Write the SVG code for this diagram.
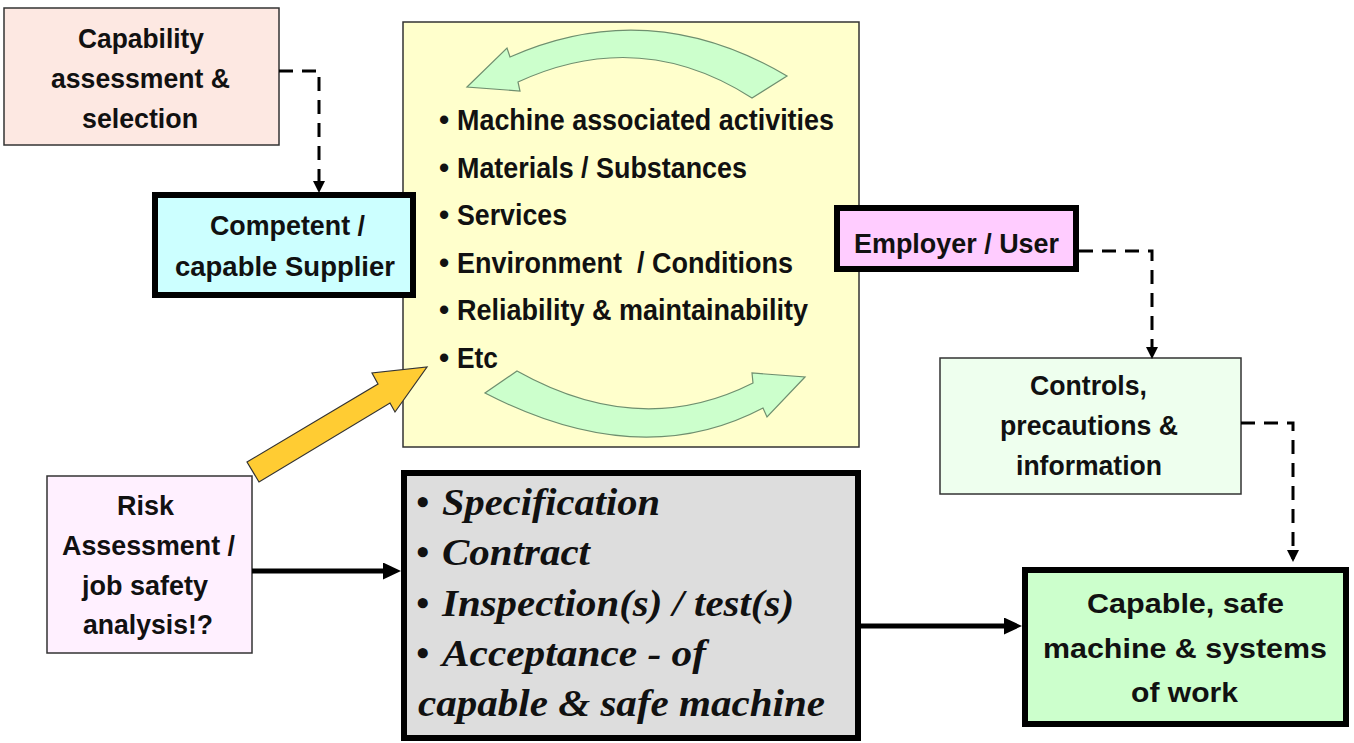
<svg xmlns="http://www.w3.org/2000/svg" width="1354" height="743" viewBox="0 0 1354 743">
<style>
.thin{stroke:#333;stroke-width:1.5}
.thick{stroke:#000;stroke-width:6}
.s{font-family:"Liberation Sans",Arial,sans-serif;font-weight:bold;font-size:28px;fill:#111}
.l{font-size:29px}
.r{font-family:"Liberation Serif","Times New Roman",serif;font-weight:bold;font-style:italic;font-size:37px;fill:#111}
.dash{fill:none;stroke:#000;stroke-width:3;stroke-dasharray:14 9}
.solid{fill:none;stroke:#000;stroke-width:5}
.garrow{fill:#ccffcc;stroke:#6f8f6f;stroke-width:1.2}
</style>
<defs>
<marker id="ms" markerUnits="userSpaceOnUse" markerWidth="12" markerHeight="12" refX="9" refY="6" orient="auto"><path d="M0,0 L12,6 L0,12 z" fill="#000"/></marker>
<marker id="mb" markerUnits="userSpaceOnUse" markerWidth="18" markerHeight="17" refX="9" refY="8.5" orient="auto"><path d="M0,0 L18,8.5 L0,17 z" fill="#000"/></marker>
</defs>
<rect width="1354" height="743" fill="#fff"/>

<g id="capability">
<rect x="4" y="8" width="275" height="137" fill="#fde8e2" class="thin"/>
<text class="s" x="78" y="48" textLength="126" lengthAdjust="spacingAndGlyphs">Capability</text>
<text class="s" x="51" y="88" textLength="179" lengthAdjust="spacingAndGlyphs">assessment &amp;</text>
<text class="s" x="82" y="128" textLength="116" lengthAdjust="spacingAndGlyphs">selection</text>
</g>

<g id="activities">
<rect x="403" y="22" width="456" height="425" fill="#ffffcc" class="thin"/>
<path class="garrow" d="M467,87 L507,48 L510,57 Q650,-5 787,76 L752,98 Q640,26 518,82 L520,91 Z"/>
<path class="garrow" d="M805,377 L767,417 L763,408 Q640,473 485,393 L517,371 Q640,440 753,383 L752,373 Z"/>
<text class="s l" x="439" y="130">•</text>
<text class="s l" x="457" y="130" textLength="377" lengthAdjust="spacingAndGlyphs">Machine associated activities</text>
<text class="s l" x="439" y="178">•</text>
<text class="s l" x="457" y="178" textLength="290" lengthAdjust="spacingAndGlyphs">Materials / Substances</text>
<text class="s l" x="439" y="225">•</text>
<text class="s l" x="457" y="225" textLength="110" lengthAdjust="spacingAndGlyphs">Services</text>
<text class="s l" x="439" y="273">•</text>
<text class="s l" x="457" y="273" textLength="336" lengthAdjust="spacingAndGlyphs" xml:space="preserve">Environment  / Conditions</text>
<text class="s l" x="439" y="320">•</text>
<text class="s l" x="457" y="320" textLength="351" lengthAdjust="spacingAndGlyphs">Reliability &amp; maintainability</text>
<text class="s l" x="439" y="368">•</text>
<text class="s l" x="457" y="368" textLength="41" lengthAdjust="spacingAndGlyphs">Etc</text>
</g>

<g id="supplier">
<rect x="155" y="195" width="258" height="100" fill="#ccffff" class="thick"/>
<text class="s" x="210" y="235" textLength="155" lengthAdjust="spacingAndGlyphs">Competent /</text>
<text class="s" x="175" y="276" textLength="220" lengthAdjust="spacingAndGlyphs">capable Supplier</text>
</g>

<g id="employer">
<rect x="837" y="208" width="239" height="61" fill="#ffccff" class="thick"/>
<text class="s" x="854" y="253" textLength="205" lengthAdjust="spacingAndGlyphs">Employer / User</text>
</g>

<g id="controls">
<rect x="940" y="358" width="301" height="136" fill="#eeffee" class="thin"/>
<text class="s" x="1030" y="395" textLength="117" lengthAdjust="spacingAndGlyphs">Controls,</text>
<text class="s" x="1000" y="435" textLength="178" lengthAdjust="spacingAndGlyphs">precautions &amp;</text>
<text class="s" x="1016" y="475" textLength="146" lengthAdjust="spacingAndGlyphs">information</text>
</g>

<g id="risk">
<rect x="47" y="476" width="205" height="177" fill="#fff0ff" class="thin"/>
<text class="s" x="117" y="515" textLength="57" lengthAdjust="spacingAndGlyphs">Risk</text>
<text class="s" x="62" y="555" textLength="173" lengthAdjust="spacingAndGlyphs">Assessment /</text>
<text class="s" x="82" y="595" textLength="126" lengthAdjust="spacingAndGlyphs">job safety</text>
<text class="s" x="83" y="634" textLength="130" lengthAdjust="spacingAndGlyphs">analysis!?</text>
</g>

<g id="contract">
<rect x="404" y="473" width="454" height="265" fill="#dddddd" class="thick"/>
<text class="r" x="416" y="515">•</text>
<text class="r" x="442" y="515" textLength="218" lengthAdjust="spacingAndGlyphs">Specification</text>
<text class="r" x="416" y="565">•</text>
<text class="r" x="442" y="565" textLength="148" lengthAdjust="spacingAndGlyphs">Contract</text>
<text class="r" x="416" y="616">•</text>
<text class="r" x="442" y="616" textLength="352" lengthAdjust="spacingAndGlyphs">Inspection(s) / test(s)</text>
<text class="r" x="416" y="666">•</text>
<text class="r" x="442" y="666" textLength="264" lengthAdjust="spacingAndGlyphs">Acceptance - of</text>
<text class="r" x="418" y="716" textLength="407" lengthAdjust="spacingAndGlyphs">capable &amp; safe machine</text>
</g>

<g id="capable">
<rect x="1025" y="570" width="321" height="154" fill="#ccffcc" class="thick"/>
<text class="s" x="1087" y="613" textLength="197" lengthAdjust="spacingAndGlyphs">Capable, safe</text>
<text class="s" x="1043" y="658" textLength="284" lengthAdjust="spacingAndGlyphs">machine &amp; systems</text>
<text class="s" x="1131" y="702" textLength="107" lengthAdjust="spacingAndGlyphs">of work</text>
</g>

<g id="connectors">
<path class="dash" d="M279,71 H319 V190" marker-end="url(#ms)"/>
<path class="dash" d="M1079,251 H1152 V356" marker-end="url(#ms)"/>
<path class="dash" d="M1241,423 H1293 V559" marker-end="url(#ms)"/>
<path class="solid" d="M252,571 H392" marker-end="url(#mb)"/>
<path class="solid" d="M861,626 H1013" marker-end="url(#mb)"/>
<polygon points="247,462 378,384 372,373 427,367 395,412 390,403 259,482" fill="#ffcc33" stroke="#333" stroke-width="1.2"/>
</g>
</svg>
